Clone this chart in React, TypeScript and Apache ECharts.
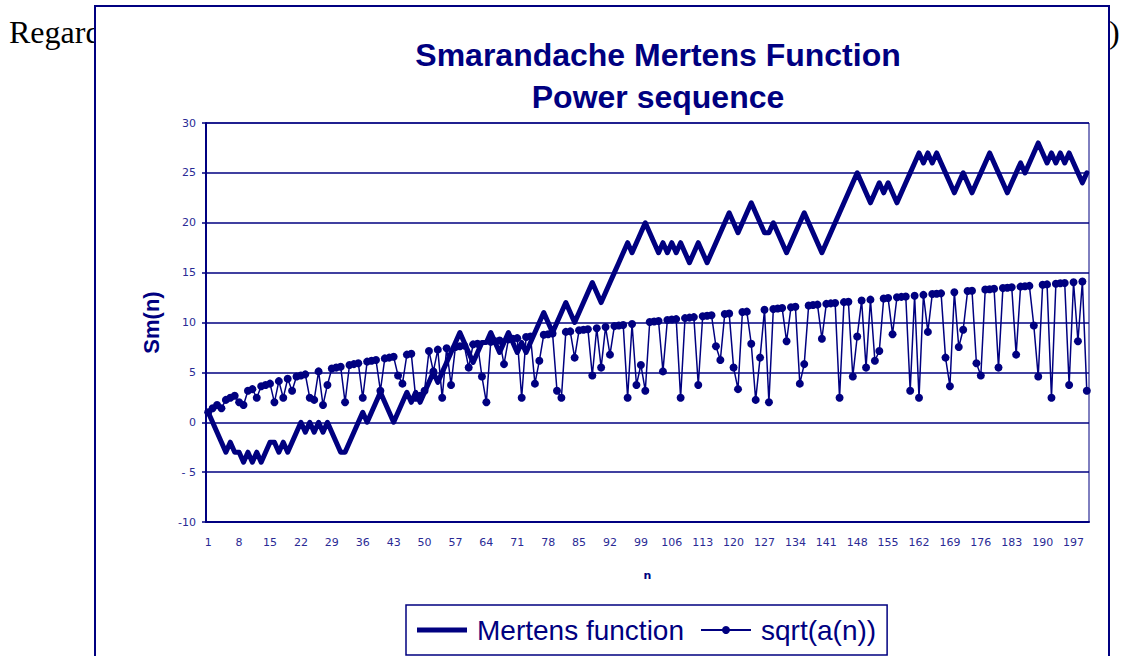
import React, { useEffect, useRef } from "react";
import * as echarts from "echarts";

const CATEGORIES: string[] = Array.from({ length: 200 }, (_, i) => String(i + 1));

const MERTENS: number[] = [
  1, 0, -1, -2, -3, -2, -3, -3, -4, -3,
  -4, -3, -4, -3, -2, -2, -3, -2, -3, -2,
  -1, 0, -1, 0, -1, 0, -1, 0, -1, -2,
  -3, -3, -2, -1, 0, 1, 0, 1, 2, 3,
  2, 1, 0, 1, 2, 3, 2, 3, 2, 3,
  4, 5, 4, 5, 6, 7, 8, 9, 8, 7,
  6, 7, 8, 8, 9, 8, 7, 8, 9, 8,
  7, 8, 7, 8, 9, 10, 11, 10, 9, 10,
  11, 12, 11, 10, 11, 12, 13, 14, 13, 12,
  13, 14, 15, 16, 17, 18, 17, 18, 19, 20,
  19, 18, 17, 18, 17, 18, 17, 18, 17, 16,
  17, 18, 17, 16, 17, 18, 19, 20, 21, 20,
  19, 20, 21, 22, 21, 20, 19, 19, 20, 19,
  18, 17, 18, 19, 20, 21, 20, 19, 18, 17,
  18, 19, 20, 21, 22, 23, 24, 25, 24, 23,
  22, 23, 24, 23, 24, 23, 22, 23, 24, 25,
  26, 27, 26, 27, 26, 27, 26, 25, 24, 23,
  24, 25, 24, 23, 24, 25, 26, 27, 26, 25,
  24, 23, 24, 25, 26, 25, 26, 27, 28, 27,
  26, 27, 26, 27, 26, 27, 26, 25, 24, 25,
];

const SQRT_A: number[] = [
  1, 1.41, 1.73, 1.41, 2.24, 2.45, 2.65, 2, 1.73, 3.16,
  3.32, 2.45, 3.61, 3.74, 3.87, 2, 4.12, 2.45, 4.36, 3.16,
  4.58, 4.69, 4.8, 2.45, 2.24, 5.1, 1.73, 3.74, 5.39, 5.48,
  5.57, 2, 5.74, 5.83, 5.92, 2.45, 6.08, 6.16, 6.24, 3.16,
  6.4, 6.48, 6.56, 4.69, 3.87, 6.78, 6.86, 2.45, 2.65, 3.16,
  7.14, 5.1, 7.28, 2.45, 7.42, 3.74, 7.55, 7.62, 7.68, 5.48,
  7.81, 7.87, 4.58, 2, 8.06, 8.12, 8.19, 5.83, 8.31, 8.37,
  8.43, 2.45, 8.54, 8.6, 3.87, 6.16, 8.77, 8.83, 8.89, 3.16,
  2.45, 9.06, 9.11, 6.48, 9.22, 9.27, 9.33, 4.69, 9.43, 5.48,
  9.54, 6.78, 9.64, 9.7, 9.75, 2.45, 9.85, 3.74, 5.74, 3.16,
  10.05, 10.1, 10.15, 5.1, 10.25, 10.3, 10.34, 2.45, 10.44, 10.49,
  10.54, 3.74, 10.63, 10.68, 10.72, 7.62, 6.24, 10.86, 10.91, 5.48,
  3.32, 11.05, 11.09, 7.87, 2.24, 6.48, 11.27, 2, 11.36, 11.4,
  11.45, 8.12, 11.53, 11.58, 3.87, 5.83, 11.7, 11.75, 11.79, 8.37,
  11.87, 11.92, 11.96, 2.45, 12.04, 12.08, 4.58, 8.6, 12.21, 5.48,
  12.29, 6.16, 7.14, 12.41, 12.45, 8.83, 12.53, 12.57, 12.61, 3.16,
  12.69, 2.45, 12.77, 9.06, 12.85, 12.88, 12.92, 6.48, 3.61, 13.04,
  7.55, 9.27, 13.15, 13.19, 5.92, 4.69, 13.3, 13.34, 13.38, 5.48,
  13.45, 13.49, 13.53, 6.78, 13.6, 13.64, 13.67, 9.7, 4.58, 13.78,
  13.82, 2.45, 13.89, 13.93, 13.96, 3.74, 14.04, 8.12, 14.11, 3.16,
];

const TITLE_LINES: string[] = ["Smarandache Mertens Function", "Power sequence"];
const SERIES_NAMES: string[] = ["Mertens function", "sqrt(a(n))"];

const NAVY = "#000080";
const SANS = '"Liberation Sans", Arial, sans-serif';
const TICK_FONT = '"DejaVu Sans", Verdana, sans-serif';

export default function App() {
  const ref = useRef<HTMLDivElement>(null);

  useEffect(() => {
    if (!ref.current) return;
    const chart = echarts.init(ref.current, undefined, { renderer: "svg" });
    chart.setOption({
      animation: false,
      backgroundColor: "transparent",
      graphic: [
        {
          type: "text",
          x: 658,
          y: 55,
          style: {
            text: TITLE_LINES[0],
            fontSize: 32,
            fontWeight: "bold",
            fontFamily: SANS,
            fill: NAVY,
            align: "center",
            verticalAlign: "middle",
          },
        },
        {
          type: "text",
          x: 658,
          y: 97,
          style: {
            text: TITLE_LINES[1],
            fontSize: 32,
            fontWeight: "bold",
            fontFamily: SANS,
            fill: NAVY,
            align: "center",
            verticalAlign: "middle",
          },
        },
      ],
      grid: {
        left: 206,
        top: 123,
        right: 36,
        bottom: 134,
        show: true,
        borderColor: NAVY,
        borderWidth: 1,
        backgroundColor: "transparent",
      },
      legend: {
        data: [
          {
            name: SERIES_NAMES[0],
            icon: "path://M0,0 M50,10 M0,2.5 L50,2.5 L50,7.5 L0,7.5 Z",
            itemStyle: { color: NAVY },
          },
          { name: SERIES_NAMES[1] },
        ],
        left: 406,
        top: 605,
        orient: "horizontal",
        padding: [11, 11, 11, 11],
        itemGap: 16,
        itemWidth: 50,
        itemHeight: 10,
        borderColor: NAVY,
        borderWidth: 1.5,
        backgroundColor: "#fff",
        textStyle: {
          fontSize: 28,
          fontFamily: SANS,
          color: NAVY,
          padding: [0, 0, 0, 5],
        },
      },
      xAxis: {
        type: "category",
        data: CATEGORIES,
        boundaryGap: true,
        name: "n",
        nameLocation: "middle",
        nameGap: 48,
        nameTextStyle: {
          fontSize: 11,
          fontWeight: "bold",
          fontFamily: TICK_FONT,
          color: NAVY,
        },
        axisLine: { onZero: false, lineStyle: { color: NAVY, width: 2 } },
        axisTick: { show: false },
        axisLabel: {
          interval: 6,
          margin: 15,
          fontSize: 11,
          fontFamily: TICK_FONT,
          color: "#2a2a95",
        },
        splitLine: { show: false },
      },
      yAxis: {
        type: "value",
        min: -10,
        max: 30,
        interval: 5,
        name: "Sm(n)",
        nameLocation: "middle",
        nameGap: 44,
        nameRotate: 90,
        nameTextStyle: {
          fontSize: 22,
          fontWeight: "bold",
          fontFamily: SANS,
          color: NAVY,
        },
        axisLine: { show: true, lineStyle: { color: NAVY, width: 2 } },
        axisTick: { show: true, length: 4, lineStyle: { color: NAVY, width: 1.5 } },
        axisLabel: {
          margin: 10,
          fontSize: 11,
          fontFamily: TICK_FONT,
          color: "#2a2a95",
          formatter: (v: number) => (v < 0 && v > -10 ? "- " + Math.abs(v) : String(v)),
        },
        splitLine: { show: true, lineStyle: { color: NAVY, width: 1.5 } },
      },
      series: [
        {
          name: SERIES_NAMES[0],
          type: "line",
          data: MERTENS,
          symbol: "none",
          showSymbol: false,
          lineStyle: { color: NAVY, width: 5, join: "round", cap: "round" },
          itemStyle: { color: NAVY },
          z: 3,
        },
        {
          name: SERIES_NAMES[1],
          type: "line",
          data: SQRT_A,
          symbol: "circle",
          symbolSize: 8,
          showSymbol: true,
          showAllSymbol: true,
          lineStyle: { color: NAVY, width: 1.5 },
          itemStyle: { color: NAVY },
          z: 4,
        },
      ],
    });
    return () => chart.dispose();
  }, []);

  return (
    <div
      style={{
        position: "absolute",
        left: 0,
        top: 0,
        width: 1125,
        height: 656,
        overflow: "hidden",
        background: "#fff",
      }}
    >
      <div
        style={{
          position: "absolute",
          left: 9,
          top: 16,
          fontFamily: '"Liberation Serif", "Times New Roman", serif',
          fontSize: 32,
          lineHeight: "32px",
          color: "#000",
          whiteSpace: "nowrap",
        }}
      >
        Regard
      </div>
      <div
        style={{
          position: "absolute",
          left: 1109,
          top: 16,
          fontFamily: '"Liberation Serif", "Times New Roman", serif',
          fontSize: 32,
          lineHeight: "32px",
          color: "#000",
          whiteSpace: "nowrap",
        }}
      >
        )
      </div>
      <div
        style={{
          position: "absolute",
          left: 94,
          top: 5,
          width: 1012,
          height: 720,
          background: "#fff",
          border: "2px solid " + NAVY,
        }}
      />
      <div
        ref={ref}
        style={{ position: "absolute", left: 0, top: 0, width: 1125, height: 656 }}
      />
    </div>
  );
}
